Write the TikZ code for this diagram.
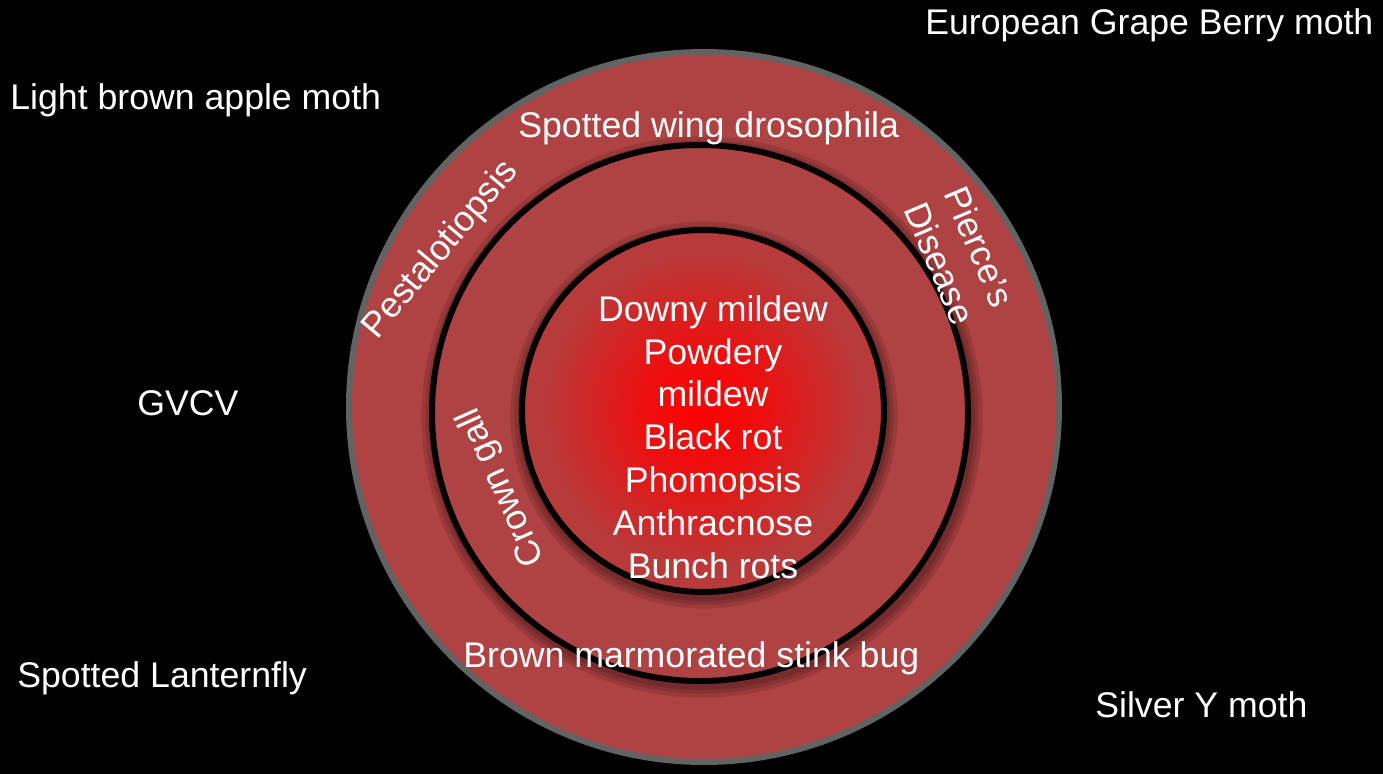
\documentclass[tikz,border=0pt]{standalone}
\usepackage{fontspec}
\setmainfont{Liberation Sans}

\definecolor{ringlight}{RGB}{175,66,66}
\definecolor{ringdark}{RGB}{146,54,54}
\definecolor{rimgray}{RGB}{98,98,98}
\pgfdeclareradialshading{ringshade}{\pgfpoint{0bp}{0bp}}{color(0bp)=(ringlight); color(40bp)=(ringlight); color(50bp)=(ringdark); color(100bp)=(ringdark)}
\pgfdeclareradialshading{coreshade}{\pgfpoint{0bp}{0bp}}{color(0bp)=(red); color(9bp)=(red!75!ringlight); color(22bp)=(ringlight!88!red); color(40bp)=(ringlight); color(50bp)=(ringdark!75!black)}

\begin{document}
\begin{tikzpicture}[x=0.02cm,y=-0.02cm,
  lbl/.style={text=white,inner sep=0pt,font=\fontsize{20.3}{24.4}\selectfont},
  ring/.style={line width=0.12cm},
  shadowring/.style={draw=black,opacity=0.12,line width=#1},
  shadowring/.default=0.3cm]
\fill[black] (0,0) rectangle (1383,774);
% the three rings
\shadedraw[shading=ringshade,draw=rimgray,ring] (704,407) circle (355);
\foreach \w in {0.5cm,0.34cm,0.2cm}
  \draw[shadowring=\w] (702,417) circle (268);
\filldraw[fill=ringlight,draw=black,ring] (700,413) circle (268);
\foreach \w in {0.5cm,0.34cm,0.2cm}
  \draw[shadowring=\w] (704,415) circle (181);
\shadedraw[shading=coreshade,draw=black,ring] (703,411) circle (181);
% outside the circle
\node[lbl,anchor=base west] (egbm) at (925,34) {European Grape Berry moth};
\node[lbl,anchor=base west] (lbam) at (10,109) {Light brown apple moth};
\node[lbl,anchor=base west] (gvcv) at (137,415) {GVCV};
\node[lbl,anchor=base west] (slf) at (17,687) {Spotted Lanternfly};
\node[lbl,anchor=base west] (sym) at (1095,717) {Silver Y moth};
% outer ring
\node[lbl,anchor=base west] (swd) at (518,137) {Spotted wing drosophila};
\node[lbl,anchor=base west] (bmsb) at (463,667) {Brown marmorated stink bug};
\node[lbl,rotate=50] (pesta) at (441,250) {Pestalotiopsis};
\node[lbl,rotate=-67,align=center] (pierce) at (960,255) {Pierce’s\\Disease};
% middle ring
\node[lbl,rotate=114] (crown) at (502,487) {Crown gall};
% core
\node[lbl,align=center] (core) at (713,437) {Downy mildew\\Powdery\\mildew\\Black rot\\Phomopsis\\Anthracnose\\Bunch rots};
\end{tikzpicture}
\end{document}
